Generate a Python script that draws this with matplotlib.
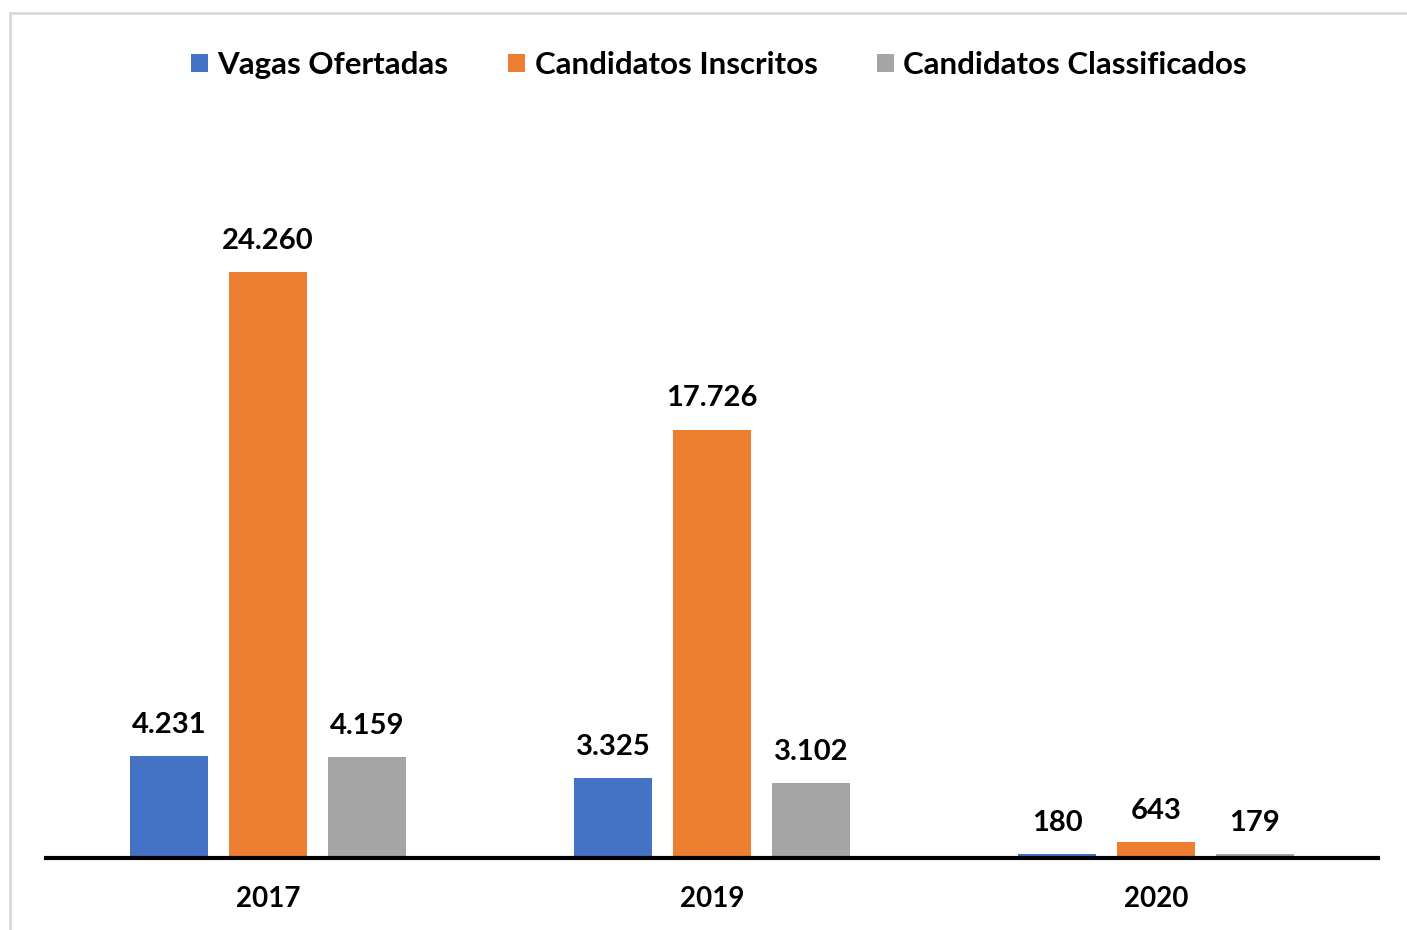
import numpy as np
import matplotlib.pyplot as plt
from matplotlib.patches import Rectangle

# data
years = ['2017', '2019', '2020']
vagas = [4231, 3325, 180]
inscritos = [24260, 17726, 643]
classificados = [4159, 3102, 179]
series_names = ['Vagas Ofertadas', 'Candidatos Inscritos', 'Candidatos Classificados']
colors = ['#4472C4', '#ED7D31', '#A5A5A5']

plt.rcParams['font.family'] = ['Lato', 'DejaVu Sans']
plt.rcParams['font.weight'] = 'bold'

fig = plt.figure(figsize=(14.07, 9.3), dpi=100)
W, H = 1407, 930
ax = fig.add_axes([46 / W, 1 - 858 / H, 1332 / W, (858 - 133) / H])

x = np.arange(len(years))
width = 0.175
offset = 0.223


def fmt(v):
    return f'{v:,}'.replace(',', '.')


for i, (vals, name, c) in enumerate(zip([vagas, inscritos, classificados], series_names, colors)):
    pos = x + (i - 1) * offset
    bars = ax.bar(pos, vals, width, color=c, label=name, zorder=2)
    for b, v in zip(bars, vals):
        ax.text(b.get_x() + b.get_width() / 2, v + 750, fmt(v), ha='center', va='bottom',
                fontsize=21, fontweight='bold', color='#000000')

ax.set_xlim(-0.5, 2.5)
ax.set_ylim(0, 30000)
ax.set_xticks(x)
ax.set_xticklabels(years, fontsize=20, fontweight='bold')
ax.tick_params(axis='x', length=0, pad=20)
ax.set_yticks([])
for s in ['top', 'right', 'left']:
    ax.spines[s].set_visible(False)
ax.spines['bottom'].set_linewidth(3)
ax.spines['bottom'].set_color('black')
ax.spines['bottom'].set_zorder(3)

leg = fig.legend(loc='center', bbox_to_anchor=(719 / W, 1 - 65 / H), ncol=3, frameon=False,
                 fontsize=22.5, handlelength=0.55, handleheight=0.55, handletextpad=0.3,
                 columnspacing=1.9)
for t in leg.get_texts():
    t.set_fontweight('bold')

# light border around the chart area
fig.patches.append(Rectangle((10 / W, -0.1), 1.2, 1.1 - 13 / H, transform=fig.transFigure,
                             fill=False, edgecolor='#D9D9D9', lw=2))

fig.savefig('out.png', dpi=100)
